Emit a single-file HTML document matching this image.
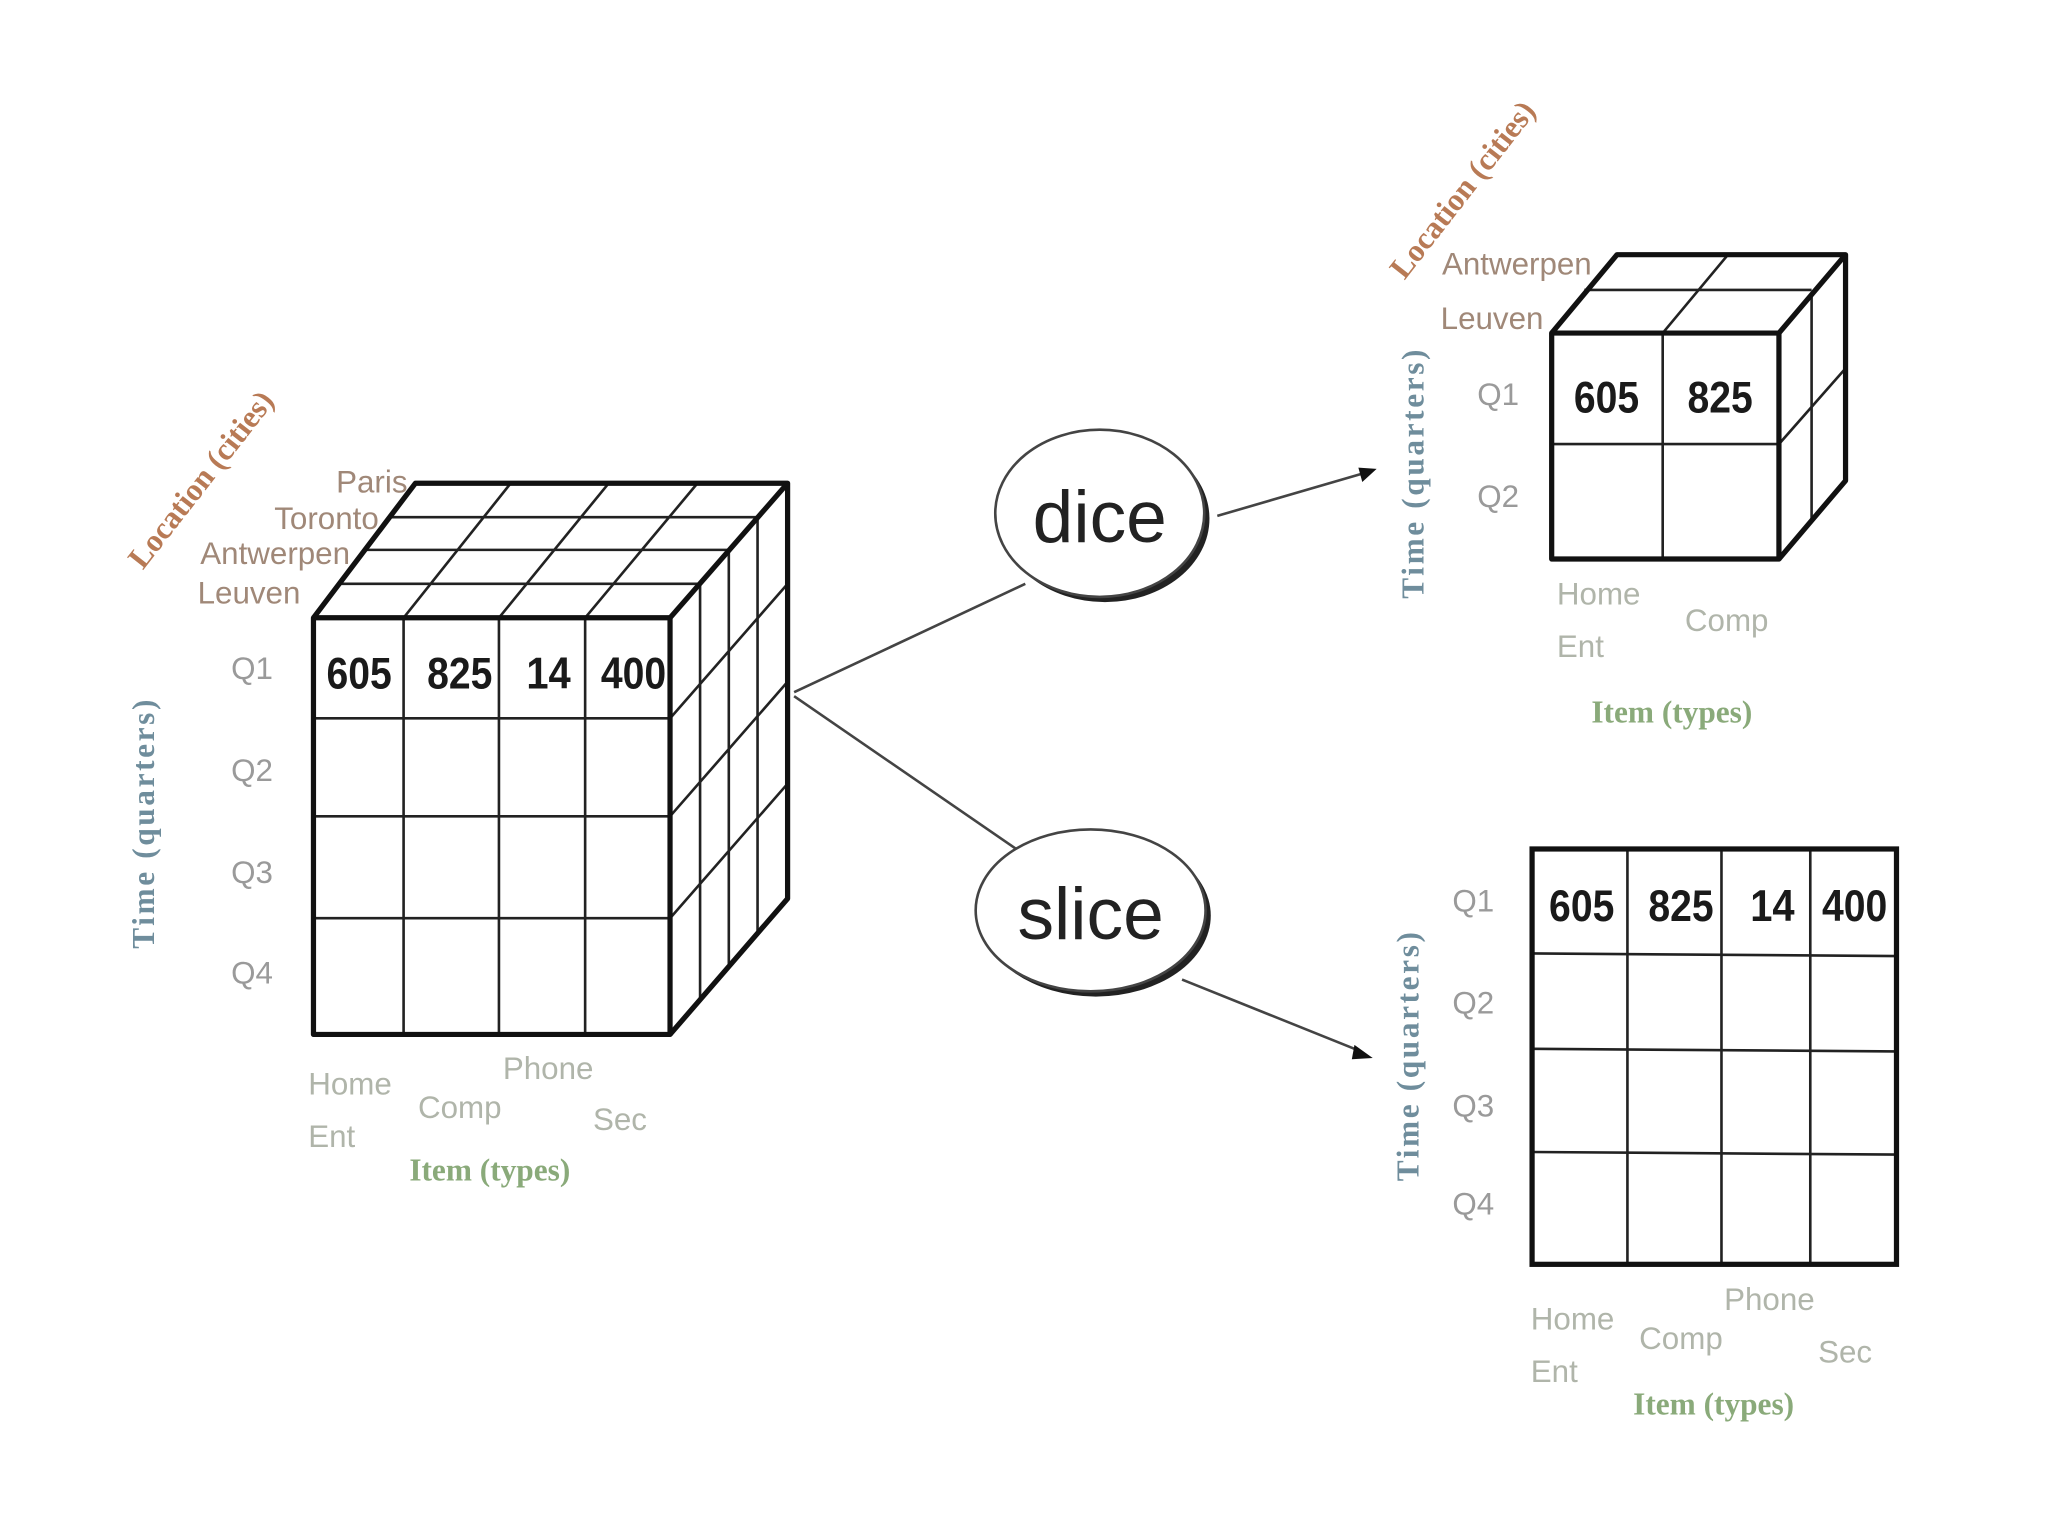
<!DOCTYPE html>
<html><head><meta charset="utf-8"><style>
html,body{margin:0;padding:0;background:#fff;}
svg{display:block;}
text{font-family:"Liberation Sans",sans-serif;}
.num{font-weight:bold;font-size:34px;fill:#1a1a1a;}
.q{font-size:24px;fill:#9a9a9a;}
.city{font-size:24px;fill:#a08878;}
.loc{font-family:"Liberation Serif",serif;font-weight:bold;font-size:24px;fill:#b87a55;}
.time{font-family:"Liberation Serif",serif;font-weight:bold;font-size:24px;fill:#6f8d9c;letter-spacing:2px;}
.it{font-size:24px;fill:#b0b5aa;}
.itm{font-family:"Liberation Serif",serif;font-weight:bold;font-size:24px;fill:#8aaa7a;}
</style></head><body>
<svg width="2048" height="1536" viewBox="0 0 1568 1176" preserveAspectRatio="none">
<rect width="1568" height="1176" fill="#fff"/>
<g stroke="#444" stroke-width="2" fill="none">
<line x1="608" y1="530" x2="785" y2="447"/>
<line x1="608" y1="533" x2="778" y2="650"/>
<line x1="932" y1="395" x2="1045" y2="362"/>
<line x1="905" y1="750" x2="1042" y2="805"/>
</g>
<polygon points="1054,359 1040,358 1043,369" fill="#111"/>
<polygon points="1051,810 1037,800 1035,811" fill="#111"/>
<ellipse cx="846" cy="397" rx="80" ry="64" fill="#222"/>
<ellipse cx="842" cy="393" rx="80" ry="64" fill="#fff" stroke="#444" stroke-width="2"/>
<text x="842" y="415" text-anchor="middle" style="font-size:56px;fill:#222">dice</text>
<ellipse cx="839" cy="701" rx="88" ry="62" fill="#222"/>
<ellipse cx="835" cy="697" rx="88" ry="62" fill="#fff" stroke="#444" stroke-width="2"/>
<text x="835" y="719" text-anchor="middle" style="font-size:56px;fill:#222">slice</text>

<g stroke="#222" stroke-width="2" fill="none">
<line x1="259" y1="447" x2="536" y2="447"/>
<line x1="279" y1="421" x2="558" y2="421"/>
<line x1="298" y1="396" x2="580" y2="396"/>
<line x1="309" y1="473" x2="391" y2="370"/>
<line x1="382" y1="473" x2="466" y2="370"/>
<line x1="448" y1="473" x2="534" y2="370"/>
<line x1="536" y1="447" x2="536" y2="766"/>
<line x1="558" y1="421" x2="558" y2="740"/>
<line x1="580" y1="396" x2="580" y2="715"/>
<line x1="513" y1="550" x2="603" y2="447"/>
<line x1="513" y1="625" x2="603" y2="522"/>
<line x1="513" y1="703" x2="603" y2="600"/>
<line x1="240" y1="550" x2="513" y2="550"/>
<line x1="240" y1="625" x2="513" y2="625"/>
<line x1="240" y1="703" x2="513" y2="703"/>
<line x1="309" y1="473" x2="309" y2="792"/>
<line x1="382" y1="473" x2="382" y2="792"/>
<line x1="448" y1="473" x2="448" y2="792"/>
</g>
<g stroke="#111" stroke-width="4" fill="none" stroke-linejoin="round">
<rect x="240" y="473" width="273" height="319"/>
<polyline points="240,473 318,370 603,370 603,688 513,792"/>
<line x1="513" y1="473" x2="603" y2="370"/>
</g>
<text class="num" x="275" y="527" text-anchor="middle" textLength="50" lengthAdjust="spacingAndGlyphs">605</text>
<text class="num" x="352" y="527" text-anchor="middle" textLength="50" lengthAdjust="spacingAndGlyphs">825</text>
<text class="num" x="420" y="527" text-anchor="middle" textLength="34" lengthAdjust="spacingAndGlyphs">14</text>
<text class="num" x="485" y="527" text-anchor="middle" textLength="50" lengthAdjust="spacingAndGlyphs">400</text>
<text class="city" x="312" y="377" text-anchor="end">Paris</text>
<text class="city" x="290" y="405" text-anchor="end">Toronto</text>
<text class="city" x="268" y="432" text-anchor="end">Antwerpen</text>
<text class="city" x="230" y="462" text-anchor="end">Leuven</text>
<text class="loc" transform="translate(160,372) rotate(-52)" text-anchor="middle">Location (cities)</text>
<text class="q" x="193" y="520" text-anchor="middle">Q1</text>
<text class="q" x="193" y="598" text-anchor="middle">Q2</text>
<text class="q" x="193" y="676" text-anchor="middle">Q3</text>
<text class="q" x="193" y="753" text-anchor="middle">Q4</text>
<text class="time" transform="translate(118,630) rotate(-90)" text-anchor="middle">Time (quarters)</text>
<text class="it" x="236" y="838">Home</text>
<text class="it" x="236" y="878">Ent</text>
<text class="it" x="320" y="856">Comp</text>
<text class="it" x="385" y="826">Phone</text>
<text class="it" x="454" y="865">Sec</text>
<text class="itm" x="375" y="904" text-anchor="middle">Item (types)</text>

<g stroke="#222" stroke-width="2" fill="none">
<line x1="1213" y1="222" x2="1387" y2="222"/>
<line x1="1273" y1="255" x2="1323" y2="195"/>
<line x1="1387" y1="225" x2="1387" y2="398"/>
<line x1="1362" y1="340" x2="1413" y2="282"/>
<line x1="1188" y1="340" x2="1362" y2="340"/>
<line x1="1273" y1="255" x2="1273" y2="428"/>
</g>
<g stroke="#111" stroke-width="4" fill="none" stroke-linejoin="round">
<rect x="1188" y="255" width="174" height="173"/>
<polyline points="1188,255 1238,195 1413,195 1413,368 1362,428"/>
<line x1="1362" y1="255" x2="1413" y2="195"/>
</g>
<text class="num" x="1230" y="316" text-anchor="middle" textLength="50" lengthAdjust="spacingAndGlyphs">605</text>
<text class="num" x="1317" y="316" text-anchor="middle" textLength="50" lengthAdjust="spacingAndGlyphs">825</text>
<text class="city" x="1104" y="210">Antwerpen</text>
<text class="city" x="1103" y="252">Leuven</text>
<text class="loc" transform="translate(1126,150) rotate(-52)" text-anchor="middle">Location (cities)</text>
<text class="q" x="1147" y="310" text-anchor="middle">Q1</text>
<text class="q" x="1147" y="388" text-anchor="middle">Q2</text>
<text class="time" transform="translate(1090,362) rotate(-90)" text-anchor="middle">Time (quarters)</text>
<text class="it" x="1192" y="463">Home</text>
<text class="it" x="1192" y="503">Ent</text>
<text class="it" x="1290" y="483">Comp</text>
<text class="itm" x="1280" y="553" text-anchor="middle">Item (types)</text>

<g stroke="#222" stroke-width="2" fill="none">
<line x1="1246" y1="650" x2="1246" y2="968"/>
<line x1="1318" y1="650" x2="1318" y2="968"/>
<line x1="1386" y1="650" x2="1386" y2="968"/>
<line x1="1173" y1="730" x2="1452" y2="732"/>
<line x1="1173" y1="803" x2="1452" y2="805"/>
<line x1="1173" y1="882" x2="1452" y2="884"/>
</g>
<rect x="1173" y="650" width="279" height="318" stroke="#111" stroke-width="4" fill="none"/>
<text class="num" x="1211" y="705" text-anchor="middle" textLength="50" lengthAdjust="spacingAndGlyphs">605</text>
<text class="num" x="1287" y="705" text-anchor="middle" textLength="50" lengthAdjust="spacingAndGlyphs">825</text>
<text class="num" x="1357" y="705" text-anchor="middle" textLength="34" lengthAdjust="spacingAndGlyphs">14</text>
<text class="num" x="1420" y="705" text-anchor="middle" textLength="50" lengthAdjust="spacingAndGlyphs">400</text>
<text class="q" x="1128" y="698" text-anchor="middle">Q1</text>
<text class="q" x="1128" y="776" text-anchor="middle">Q2</text>
<text class="q" x="1128" y="855" text-anchor="middle">Q3</text>
<text class="q" x="1128" y="930" text-anchor="middle">Q4</text>
<text class="time" transform="translate(1086,808) rotate(-90)" text-anchor="middle">Time (quarters)</text>
<text class="it" x="1172" y="1018">Home</text>
<text class="it" x="1172" y="1058">Ent</text>
<text class="it" x="1255" y="1033">Comp</text>
<text class="it" x="1320" y="1003">Phone</text>
<text class="it" x="1392" y="1043">Sec</text>
<text class="itm" x="1312" y="1083" text-anchor="middle">Item (types)</text>
</svg>
</body></html>
